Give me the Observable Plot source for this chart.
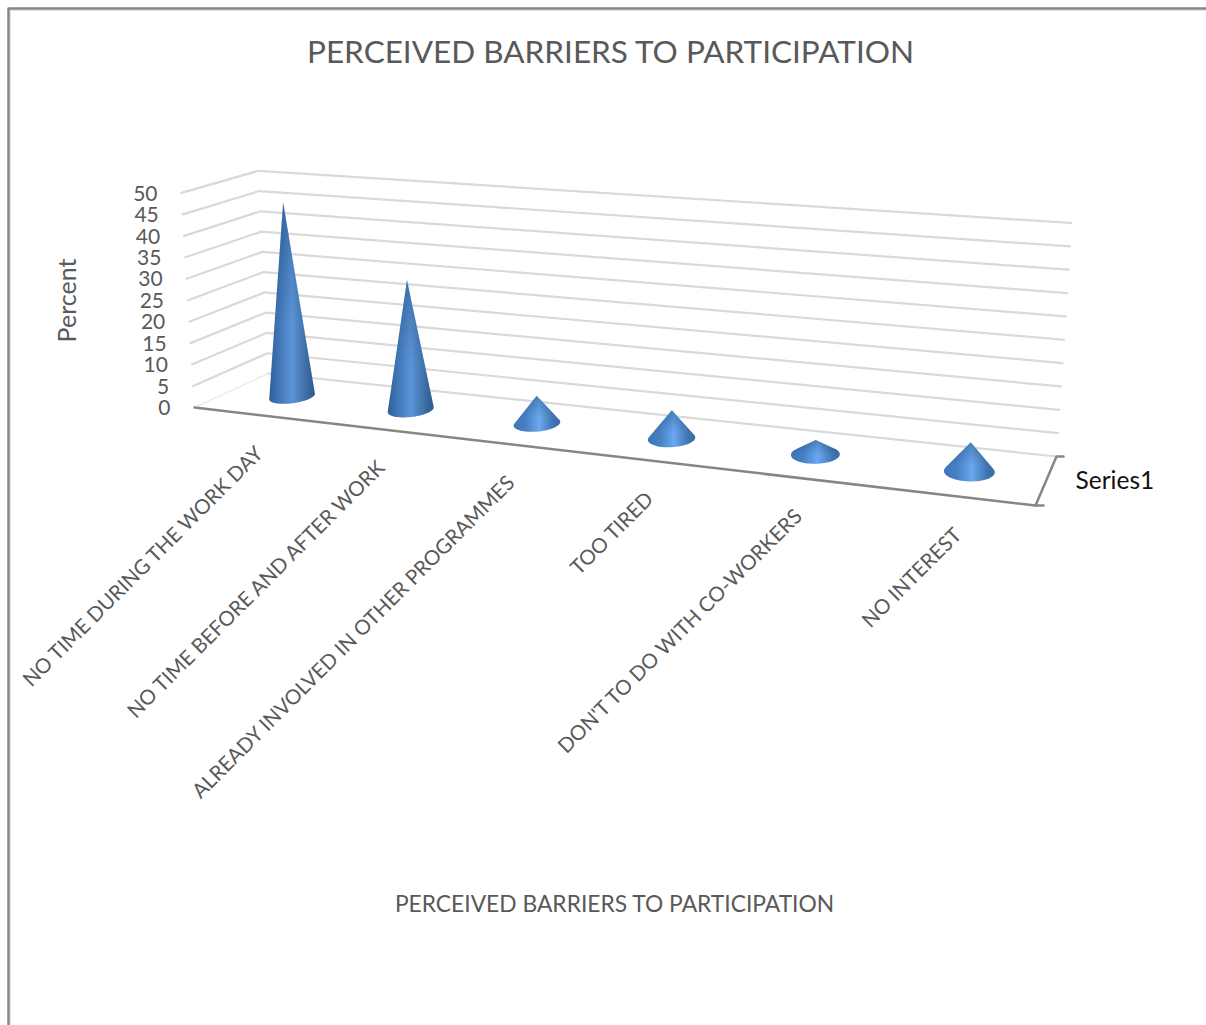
<!DOCTYPE html>
<html>
<head>
<meta charset="utf-8">
<script src="https://cdn.jsdelivr.net/npm/d3@7"></script>
<script src="https://cdn.jsdelivr.net/npm/@observablehq/plot@0.6"></script>
<style>
  html, body { margin: 0; padding: 0; background: #fff; }
  svg { display: block; }
</style>
</head>
<body>
<div id="chart"></div>
<script>
// Chart content
const chartTitle = "PERCEIVED BARRIERS TO PARTICIPATION";
const xAxisTitle = "PERCEIVED BARRIERS TO PARTICIPATION";
const yAxisTitle = "Percent";
const seriesName = "Series1";
const categories = [
  "NO TIME DURING THE WORK DAY",
  "NO TIME BEFORE AND AFTER WORK",
  "ALREADY INVOLVED IN OTHER PROGRAMMES",
  "TOO TIRED",
  "DON'T TO DO WITH CO-WORKERS",
  "NO INTEREST"
];
const percents = [46, 30, 6.3, 6.2, 3.1, 6.1];
const percentTicks = [0, 5, 10, 15, 20, 25, 30, 35, 40, 45, 50];

const W = 1206, H = 1025;
const FONT = "Lato, 'Open Sans', sans-serif";
const maxPercent = 50;

// Perspective box: floor corners ordered front-left, front-right, back-right, back-left.
const floorCorners = [[194, 407], [1035, 505], [1056, 456], [268, 373]];
// Verticals converge on a point far below the box.
const verticalVanish = [614, 7350];
// Screen height of the full value axis grows linearly with position on the floor.
const axisHeight = (x, y) => 69.4 + 0.0018 * x + 0.3568 * y;

// Maps the unit square onto a quadrilateral with a projective transform.
function squareToQuad([[x0, y0], [x1, y1], [x2, y2], [x3, y3]]) {
  const sx = x0 - x1 + x2 - x3, sy = y0 - y1 + y2 - y3;
  const dx1 = x1 - x2, dx2 = x3 - x2, dy1 = y1 - y2, dy2 = y3 - y2;
  const den = dx1 * dy2 - dx2 * dy1;
  const g = (sx * dy2 - dx2 * sy) / den, h = (dx1 * sy - sx * dy1) / den;
  const a = x1 - x0 + g * x1, b = x3 - x0 + h * x3;
  const d = y1 - y0 + g * y1, e = y3 - y0 + h * y3;
  return (u, v) => {
    const w = 1 + g * u + h * v;
    return [(a * u + b * v + x0) / w, (d * u + e * v + y0) / w];
  };
}
const floorMap = squareToQuad(floorCorners);

// Position along the category axis (u), into the box (depth) and up the value axis.
function project(u, depth, value) {
  const [bx, by] = floorMap(u, depth);
  const vx = bx - verticalVanish[0], vy = by - verticalVanish[1];
  const len = Math.hypot(vx, vy);
  const rise = axisHeight(bx, by) * value / maxPercent;
  return [bx + vx / len * rise, by + vy / len * rise];
}

const categoryU = i => (i + 0.5) / categories.length;
const coneOffsetU = 0.004, coneDepth = 0.5, coneRadiusU = 0.026, coneRadiusDepth = 0.2;

// Outline of every cone: convex hull of the base circle and the apex.
const coneOutlines = percents.flatMap((value, i) => {
  const u = categoryU(i) + coneOffsetU;
  const base = d3.range(72).map(k => {
    const a = (k / 72) * 2 * Math.PI;
    return project(u + coneRadiusU * Math.cos(a), coneDepth + coneRadiusDepth * Math.sin(a), 0);
  });
  const hull = d3.polygonHull([...base, project(u, coneDepth, value)]);
  return hull.map(([x, y]) => ({ cone: i, tall: value > 15, x, y }));
});

// Gridlines bend at the back-left corner of the box.
const gridRows = percentTicks.flatMap(tick => [[0, 0], [0, 1], [1, 1]].map(([u, d]) => {
  const [x, y] = project(u, d, tick);
  return { tick, x, y };
})).filter(d => d.tick > 0 || d.x > 260);

const asPoint = ([x, y]) => ({ x, y });
const floorFront = [floorCorners[0], floorCorners[1]].map(asPoint);
const floorSide = [[floorCorners[2][0] + 7, floorCorners[2][1]], floorCorners[2], floorCorners[1], [floorCorners[1][0] + 8, floorCorners[1][1]]].map(asPoint);
const floorLeft = [floorCorners[0], floorCorners[3]].map(asPoint);
const frame = [[W, 8], [8, 8], [8, H]].map(asPoint);
const frameInner = [[W, 10], [10, 10], [10, H]].map(asPoint);

const tickLabels = percentTicks.map(tick => {
  const [x, y] = project(0, 0, tick);
  return { label: String(tick), x, y };
});
const categoryLabels = categories.map((label, i) => {
  const [x, y] = project(categoryU(i), 0, 0);
  return { label, x, y };
});

const xy = { x: "x", y: "y" };
const plot = Plot.plot({
  width: W,
  height: H,
  margin: 0,
  x: { domain: [0, W], range: [0, W], axis: null },
  y: { domain: [0, H], range: [0, H], axis: null },
  marks: [
    Plot.line(frameInner, { ...xy, stroke: "#e4e4e4", strokeWidth: 1 }),
    Plot.line(frame, { ...xy, stroke: "#868686", strokeWidth: 2.5 }),
    Plot.line(floorLeft, { ...xy, stroke: "#ececec", strokeWidth: 1.5 }),
    Plot.line(gridRows, { ...xy, z: "tick", stroke: "#d9d9d9", strokeWidth: 2.2 }),
    Plot.line(floorFront, { ...xy, stroke: "#868686", strokeWidth: 2.5 }),
    Plot.line(floorSide, { ...xy, stroke: "#868686", strokeWidth: 2.5 }),
    Plot.line(coneOutlines.filter(d => d.tall), { ...xy, z: "cone", fill: "url(#coneTall)", stroke: "none" }),
    Plot.line(coneOutlines.filter(d => !d.tall), { ...xy, z: "cone", fill: "url(#coneShort)", stroke: "none" }),
    Plot.line(coneOutlines, { ...xy, z: "cone", fill: "url(#coneShade)", stroke: "none" }),
    Plot.text(tickLabels, { ...xy, text: "label", textAnchor: "end", dx: -24, dy: 1, fontSize: 21, fontFamily: FONT, fill: "#595959" }),
    Plot.text(categoryLabels, { ...xy, text: "label", textAnchor: "end", rotate: -45, dx: 7, dy: 36, fontSize: 20.5, fontFamily: FONT, fill: "#595959" }),
    Plot.text([{ label: chartTitle, x: 610, y: 52 }], { ...xy, text: "label", fontSize: 31.5, fontFamily: FONT, fill: "#595959" }),
    Plot.text([{ label: xAxisTitle, x: 614, y: 904 }], { ...xy, text: "label", fontSize: 22.8, fontFamily: FONT, fill: "#595959" }),
    Plot.text([{ label: yAxisTitle, x: 67, y: 300 }], { ...xy, text: "label", rotate: -90, fontSize: 25, fontFamily: FONT, fill: "#595959" }),
    Plot.text([{ label: seriesName, x: 1075, y: 481 }], { ...xy, text: "label", textAnchor: "start", fontSize: 24.5, fontFamily: FONT, fill: "#111111" })
  ]
});

// Shading of the cones: a horizontal sheen plus a darker tip.
d3.select(plot).insert("defs", ":first-child").html(`
  <linearGradient id="coneTall" x1="0" x2="1" y1="0" y2="0">
    <stop offset="0" stop-color="#2f5f99"/>
    <stop offset="0.15" stop-color="#3a70ae"/>
    <stop offset="0.5" stop-color="#5b94d8"/>
    <stop offset="0.85" stop-color="#39699f"/>
    <stop offset="1" stop-color="#2f5b8d"/>
  </linearGradient>
  <linearGradient id="coneShort" x1="0" x2="1" y1="0" y2="0">
    <stop offset="0" stop-color="#3d76b8"/>
    <stop offset="0.25" stop-color="#467fc2"/>
    <stop offset="0.55" stop-color="#6ba8f0"/>
    <stop offset="0.85" stop-color="#3f74b1"/>
    <stop offset="1" stop-color="#3a6ba6"/>
  </linearGradient>
  <linearGradient id="coneShade" x1="0" x2="0" y1="0" y2="1">
    <stop offset="0" stop-color="#12365f" stop-opacity="0.35"/>
    <stop offset="0.6" stop-color="#12365f" stop-opacity="0"/>
  </linearGradient>`);

document.getElementById("chart").append(plot);
</script>
</body>
</html>
